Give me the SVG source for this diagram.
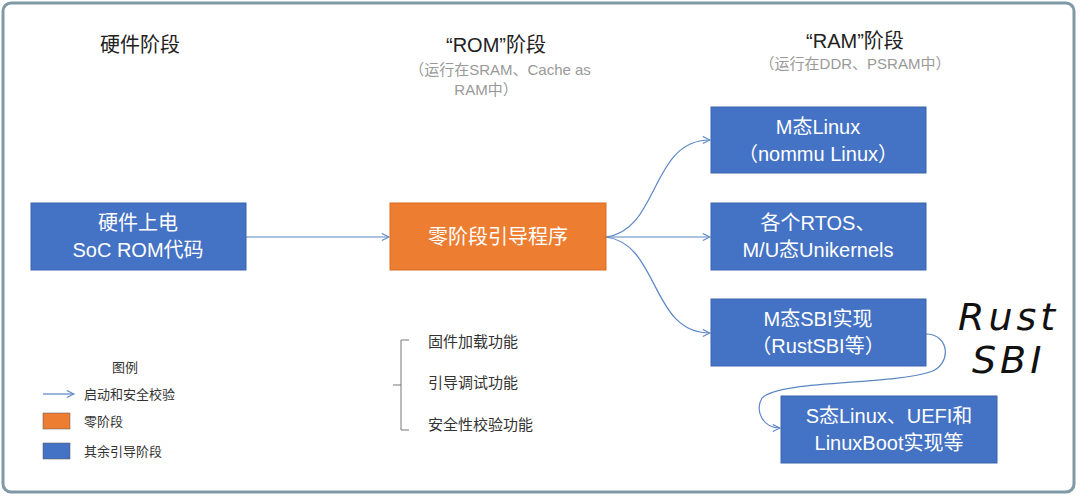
<svg xmlns="http://www.w3.org/2000/svg" width="1080" height="498" viewBox="0 0 1080 498">
<style>
text{font-family:"Liberation Sans","Noto Sans CJK SC",sans-serif}
.b{fill:#4472c4;stroke:#3a64ae;stroke-width:1}
.o{fill:#ed7d31;stroke:#d86c24;stroke-width:1}
.w{fill:#fff;font-size:20px;text-anchor:middle}
.h{fill:#222;font-size:20px;text-anchor:middle}
.g{fill:#999;font-size:15px;text-anchor:middle}
.t{fill:#333;font-size:15px}
.c{fill:none;stroke:#5b86c4;stroke-width:1.2}
.hw{font-family:"DejaVu Sans",sans-serif;font-style:italic;font-weight:200;font-size:38px;fill:#111;letter-spacing:4px}
</style>
<defs><marker id="a" viewBox="0 0 10 10" refX="9" refY="5" markerWidth="9" markerHeight="9" orient="auto" markerUnits="userSpaceOnUse"><path d="M1 1L9 5L1 9" fill="none" stroke="#5b86c4" stroke-width="1.2"/></marker></defs>
<rect x="0" y="0" width="1080" height="498" fill="#fff"/>
<rect x="3" y="3" width="1071" height="489" rx="8" fill="none" stroke="#7f9aa6" stroke-width="3"/>
<text class="h" x="140" y="52">硬件阶段</text>
<text class="h" x="496" y="52">“ROM”阶段</text>
<text class="g" x="500" y="75">（运行在SRAM、Cache as</text>
<text class="g" x="486" y="95">RAM中）</text>
<text class="h" x="855" y="48">“RAM”阶段</text>
<text class="g" x="855" y="69">（运行在DDR、PSRAM中）</text>
<g id="connectors">
<path class="c" d="M246 237H389" marker-end="url(#a)"/>
<path class="c" d="M606 237C660 230 650 140 710 140" marker-end="url(#a)"/>
<path class="c" d="M606 237H710" marker-end="url(#a)"/>
<path class="c" d="M606 237C660 244 650 333 710 333" marker-end="url(#a)"/>
<path class="c" d="M926 334C950 334 952 365 930 372C890 385 780 380 762 398C755 410 762 428 780 428" marker-end="url(#a)"/>
<path class="c" d="M43 394H74" marker-end="url(#a)"/>
</g>
<g id="n1"><rect class="b" x="31" y="203" width="215" height="67"/><text class="w" x="138" y="230">硬件上电</text><text class="w" x="138" y="257">SoC ROM代码</text></g>
<g id="n2"><rect class="o" x="390" y="203" width="216" height="67"/><text class="w" x="498" y="244">零阶段引导程序</text></g>
<g id="n3"><rect class="b" x="711" y="107" width="215" height="66"/><text class="w" x="818" y="134">M态Linux</text><text class="w" x="818" y="161">（nommu Linux）</text></g>
<g id="n4"><rect class="b" x="711" y="203" width="215" height="67"/><text class="w" x="818" y="230">各个RTOS、</text><text class="w" x="818" y="257">M/U态Unikernels</text></g>
<g id="n5"><rect class="b" x="711" y="299" width="215" height="67"/><text class="w" x="818" y="326">M态SBI实现</text><text class="w" x="818" y="353">（RustSBI等）</text></g>
<g id="n6"><rect class="b" x="781" y="396" width="216" height="67"/><text class="w" x="889" y="423">S态Linux、UEFI和</text><text class="w" x="889" y="450">LinuxBoot实现等</text></g>
<text class="hw" x="958" y="330">Rust</text>
<text class="hw" x="972" y="373">SBI</text>
<path d="M409 340H401V430H409M401 385H393" fill="none" stroke="#777" stroke-width="1"/>
<text class="t" x="428" y="347">固件加载功能</text>
<text class="t" x="428" y="388">引导调试功能</text>
<text class="t" x="428" y="430">安全性校验功能</text>
<text x="112" y="372" fill="#333" font-size="13">图例</text>
<text x="84" y="399" fill="#333" font-size="13">启动和安全校验</text>
<rect x="43" y="413" width="27" height="16" fill="#ed7d31" stroke="#555" stroke-width="0.5"/>
<text x="84" y="426" fill="#333" font-size="13">零阶段</text>
<rect x="43" y="443" width="27" height="16" fill="#4472c4" stroke="#555" stroke-width="0.5"/>
<text x="84" y="456" fill="#333" font-size="13">其余引导阶段</text>
</svg>
